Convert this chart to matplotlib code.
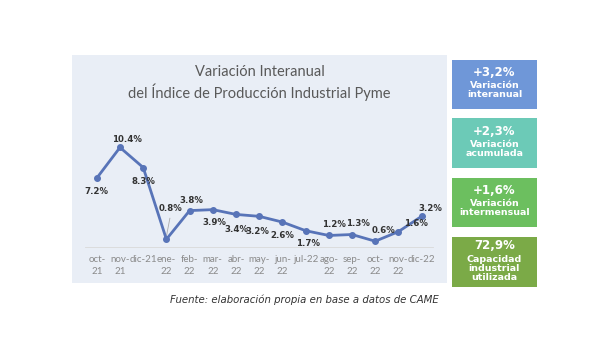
import matplotlib.pyplot as plt
from matplotlib.patches import Rectangle

# data
meses = ['oct-\n21', 'nov-\n21', 'dic-21', 'ene-\n22', 'feb-\n22', 'mar-\n22', 'abr-\n22',
         'may-\n22', 'jun-\n22', 'jul-22', 'ago-\n22', 'sep-\n22', 'oct-\n22', 'nov-\n22', 'dic-22']
valores = [7.2, 10.4, 8.3, 0.8, 3.8, 3.9, 3.4, 3.2, 2.6, 1.7, 1.2, 1.3, 0.6, 1.6, 3.2]
cajas_valor = ['+3,2%', '+2,3%', '+1,6%', '72,9%']
cajas_texto = ['Variación\ninteranual', 'Variación\nacumulada', 'Variación\nintermensual',
               'Capacidad\nindustrial\nutilizada']
cajas_color = ['#6f97d8', '#6ccab7', '#6cbf5f', '#7baa47']

# label offsets (points) per point
offsets = [(0, -10), (5, 6), (0, -10), (3, 22), (1, 7), (1, -9), (0, -11), (-1, -11),
           (0, -10), (2, -9), (4, 8), (4, 8), (6, 8), (13, 6), (6, 6)]

fig = plt.figure(figsize=(6, 3.6), dpi=100)
fig.patch.set_facecolor('white')

# panel background
bg = fig.add_axes([0.12, 0.214, 0.625, 0.633], zorder=0)
bg.set_facecolor('#e9eef6')
bg.set_xticks([])
bg.set_yticks([])
for s in bg.spines.values():
    s.set_visible(False)

ax = fig.add_axes([0.142, 0.314, 0.58, 0.319], zorder=1)
ax.set_facecolor('none')
x = list(range(len(valores)))
ax.plot(x, valores, color='#5874b8', lw=2, marker='o', ms=4, zorder=3)
for i, v in enumerate(valores):
    ax.annotate(f'{v}%', (i, v), xytext=offsets[i], textcoords='offset points',
                ha='center', va='center', fontsize=6.2, fontweight='bold', color='#333333',
                zorder=4)
# leader line for 0.8%
ax.plot([3, 3.15], [valores[3] + 0.3, 3.0], color='#aaaaaa', lw=0.6)

ax.set_xlim(-0.5, len(valores) - 0.5)
ax.set_ylim(0, 12)
ax.set_xticks(x)
ax.set_xticklabels(meses, fontsize=7, color='#8a8a8a', linespacing=1.4, family='Lato')
ax.tick_params(axis='x', length=0, pad=6)
ax.set_yticks([])
for s in ['top', 'right', 'left']:
    ax.spines[s].set_visible(False)
ax.spines['bottom'].set_color('#d9d9d9')
ax.spines['bottom'].set_linewidth(0.6)

fig.text(0.4325, 0.77, 'Variación Interanual\ndel Índice de Producción Industrial Pyme',
         ha='center', va='center', fontsize=10.5, color='#595959', linespacing=1.3,
         family='Lato')

# right boxes
tops = [60, 118, 178, 237]
bottoms = [109, 168, 227, 287]
for t, b, val, txt, col in zip(tops, bottoms, cajas_valor, cajas_texto, cajas_color):
    y0 = 1 - b / 360
    h = (b - t) / 360
    fig.patches.append(Rectangle((0.753, y0), 0.142, h, transform=fig.transFigure,
                                 facecolor=col, edgecolor='none'))
    n = txt.count('\n') + 1
    cx = 0.753 + 0.071
    cy = y0 + h / 2
    fig.text(cx, cy + 0.013 * n + 0.006, val, ha='center', va='center', fontsize=8.5,
             fontweight='bold', color='white')
    fig.text(cx, cy - 0.016 - 0.003 * (n - 2), txt, ha='center', va='center',
             fontsize=6.8, fontweight='bold', color='white', linespacing=1.0)

fig.text(0.508, 0.167, 'Fuente: elaboración propia en base a datos de CAME',
         ha='center', va='center', fontsize=7.3, style='italic', color='#333333')

fig.savefig('out.png', dpi=100)
